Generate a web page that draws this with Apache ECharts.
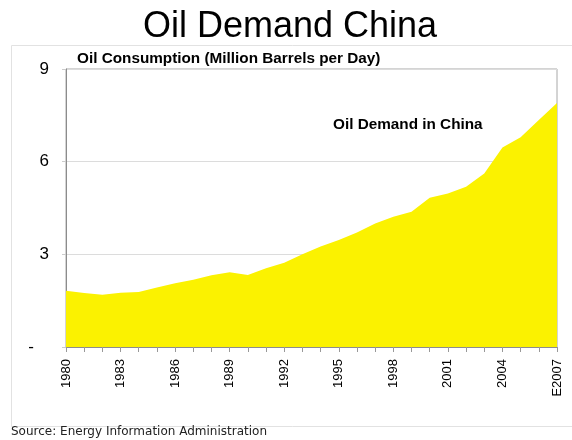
<!DOCTYPE html>
<html><head><meta charset="utf-8">
<script src="https://cdn.jsdelivr.net/npm/echarts@6/dist/echarts.min.js"></script>
<style>html,body{margin:0;padding:0;background:#fff}#c{width:572px;height:440px}</style>
</head><body><div id="c"></div>
<script>
var categories = ['1980','1981','1982','1983','1984','1985','1986','1987','1988','1989','1990','1991','1992','1993','1994','1995','1996','1997','1998','1999','2000','2001','2002','2003','2004','2005','2006','E2007'];
var oilDemand = [1.82,1.75,1.69,1.76,1.78,1.93,2.06,2.18,2.32,2.42,2.33,2.55,2.73,3.00,3.25,3.46,3.71,4.00,4.22,4.38,4.83,4.97,5.19,5.62,6.46,6.79,7.35,7.90];
var yTicks = [0,3,6,9];

var chart = echarts.init(document.getElementById('c'));
chart.setOption({
  animation: false,
  graphic: [{
    type: 'rect', z: -1, silent: true,
    shape: {x: 11.5, y: 45.5, width: 600, height: 381},
    style: {fill: 'none', stroke: '#e2e2e2', lineWidth: 1}
  }],
  title: [
    {text: 'Oil Demand China', left: 290, top: 9, padding: 0, textAlign: 'center',
     textStyle: {fontFamily: 'Liberation Sans', fontSize: 36, fontWeight: 'normal', color: '#000'}},
    {text: 'Oil Consumption (Million Barrels per Day)', left: 77, top: 51, padding: 0,
     textStyle: {fontFamily: 'Liberation Sans', fontSize: 15.3, fontWeight: 'bold', color: '#000'}},
    {text: 'Oil Demand in China', left: 333, top: 117, padding: 0,
     textStyle: {fontFamily: 'Liberation Sans', fontSize: 15.3, fontWeight: 'bold', color: '#000'}},
    {text: 'Source: Energy Information Administration', left: 11, top: 426, padding: 0,
     textStyle: {fontFamily: 'DejaVu Sans', fontSize: 12, fontWeight: 'normal', color: '#222'}}
  ],
  grid: {left: 66, right: 15, top: 69, bottom: 93, show: true, borderColor: '#a8a8a8', borderWidth: 1, backgroundColor: '#fff'},
  xAxis: {
    type: 'category', data: categories, boundaryGap: false,
    axisLine: {lineStyle: {color: '#8c8c8c', width: 1}},
    axisTick: {show: true, interval: 0, length: 5, lineStyle: {color: '#999'}},
    axisLabel: {interval: 2, rotate: 90, margin: 12, fontFamily: 'Liberation Sans', fontSize: 13, color: '#000'},
    splitLine: {show: false}
  },
  yAxis: {
    type: 'value', min: yTicks[0], max: yTicks[yTicks.length-1], interval: 3,
    axisLine: {show: true, lineStyle: {color: '#8c8c8c', width: 1}},
    axisTick: {show: true, length: 4, lineStyle: {color: '#ccc'}},
    axisLabel: {margin: 17, fontFamily: 'Liberation Sans', fontSize: 17, color: '#000',
      formatter: function (v) { return v === 0 ? '{d|-}' : String(v); },
      rich: {d: {fontFamily: 'Liberation Sans', fontSize: 17, color: '#000', padding: [0, 15, 0, 0]}}},
    splitLine: {show: true, lineStyle: {color: '#dcdcdc', width: 1}}
  },
  series: [{
    type: 'line', data: oilDemand, symbol: 'none', smooth: false,
    lineStyle: {width: 0, color: '#FBF200'},
    areaStyle: {color: '#FBF200', opacity: 1},
    z: 3
  }]
});
</script></body></html>
